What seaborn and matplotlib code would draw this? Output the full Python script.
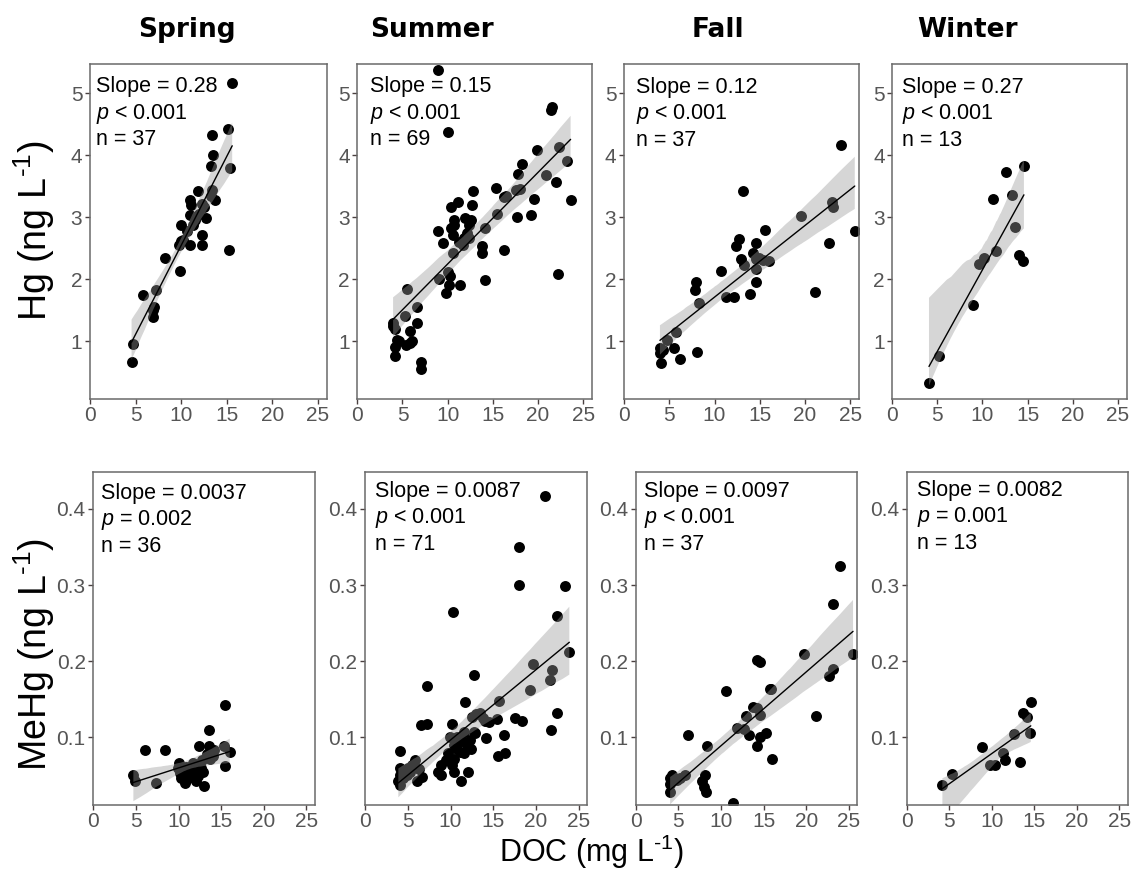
import matplotlib
matplotlib.use("Agg")
import matplotlib.pyplot as plt
import seaborn as sns
import numpy as np

# ---------------- data ----------------
seasons = ["Spring", "Summer", "Fall", "Winter"]

hg_spring_doc = [15.6, 15.15, 13.4, 13.47, 13.3, 15.4, 11.9, 13.4, 10.95, 11.1, 13.7, 12.3, 10.95, 12.7, 9.96,
                 11.3, 10.2, 10.95, 12.3, 12.3, 9.8, 15.3, 8.2, 9.85, 5.84, 7.2, 7.0, 6.86, 4.74, 4.56,
                 12.5, 10.66, 11.5, 13.3, 10.0, 6.93, 12.0]
hg_spring_val = [5.16, 4.43, 4.33, 4.0, 3.83, 3.79, 3.42, 3.44, 3.27, 3.19, 3.27, 3.22, 3.04, 2.99, 2.88,
                 2.88, 2.64, 2.56, 2.72, 2.56, 2.56, 2.47, 2.35, 2.13, 1.75, 1.82, 1.55, 1.39, 0.96, 0.67,
                 3.17, 2.78, 2.96, 3.34, 2.61, 1.51, 3.05]

hg_summer_doc = [8.94, 10.04, 21.5, 21.4, 19.9, 22.3, 23.2, 18.2, 17.8, 20.9, 22.0, 17.6, 15.3, 12.8, 16.2,
                 19.5, 23.6, 11.1, 10.4, 12.7, 15.5, 17.7, 19.2, 10.7, 11.9, 12.4, 10.66, 8.94, 10.4, 14.1,
                 10.55, 9.45, 11.8, 12.4, 11.65, 13.85, 13.8, 16.2, 10.55, 14.1, 9.08, 10.0, 10.2, 11.4, 9.8,
                 22.2, 5.53, 5.27, 6.63, 6.63, 3.96, 3.96, 5.86, 4.4, 4.14, 5.42, 5.86, 4.14, 7.07, 7.0,
                 4.2, 4.6, 11.2, 12.1, 10.3, 16.4, 18.0, 12.6, 6.0]
hg_summer_val = [5.37, 4.37, 4.77, 4.73, 4.08, 4.14, 3.9, 3.86, 3.69, 3.68, 3.56, 3.44, 3.47, 3.42, 3.33,
                 3.29, 3.28, 3.25, 3.16, 3.19, 3.05, 3.01, 3.03, 2.96, 2.98, 2.88, 2.88, 2.78, 2.82, 2.82,
                 2.72, 2.59, 2.66, 2.66, 2.55, 2.53, 2.42, 2.47, 2.42, 1.99, 2.0, 2.12, 1.91, 1.91, 1.78,
                 2.08, 1.84, 1.40, 1.56, 1.30, 1.29, 1.24, 1.16, 1.02, 0.91, 0.94, 0.97, 0.76, 0.66, 0.55,
                 1.2, 1.0, 2.6, 2.75, 2.05, 3.35, 3.45, 2.95, 1.0]

hg_fall_doc = [24.0, 13.1, 19.6, 23.0, 23.1, 25.5, 15.6, 22.6, 12.7, 12.35, 14.6, 14.3, 12.9, 13.3, 14.6,
               15.4, 16.0, 14.6, 10.7, 14.6, 8.0, 7.8, 21.1, 13.9, 11.3, 12.2, 8.27, 5.8, 4.8, 3.97,
               5.5, 3.97, 8.1, 6.2, 4.1, 14.9, 4.3]
hg_fall_val = [4.17, 3.43, 3.02, 3.25, 3.16, 2.78, 2.79, 2.58, 2.65, 2.53, 2.59, 2.43, 2.33, 2.23, 2.32,
               2.31, 2.30, 2.17, 2.14, 1.95, 1.96, 1.82, 1.80, 1.76, 1.72, 1.72, 1.61, 1.15, 1.02, 0.89,
               0.89, 0.81, 0.83, 0.71, 0.65, 2.35, 0.86]

hg_winter_doc = [14.6, 12.6, 13.3, 11.2, 13.6, 11.5, 9.6, 10.2, 14.0, 14.5, 8.9, 5.2, 4.07]
hg_winter_val = [3.82, 3.73, 3.36, 3.29, 2.85, 2.45, 2.25, 2.34, 2.39, 2.30, 1.59, 0.77, 0.33]

mehg_spring_doc = [15.5, 13.6, 12.4, 13.6, 6.05, 8.4, 15.3, 16.0, 10.0, 15.5, 4.7, 4.9, 7.3, 10.7, 13.0,
                   10.2, 11.3, 12.3, 11.9, 12.9, 10.9, 13.7, 12.7, 11.7, 10.5, 10.3, 11.0, 11.6, 12.0, 12.6,
                   13.3, 14.2, 11.2, 9.9, 12.2, 14.0]
mehg_spring_val = [0.143, 0.110, 0.089, 0.089, 0.083, 0.083, 0.089, 0.080, 0.066, 0.062, 0.050, 0.042, 0.040,
                   0.040, 0.036, 0.053, 0.050, 0.049, 0.059, 0.055, 0.061, 0.072, 0.070, 0.066, 0.055, 0.047,
                   0.045, 0.052, 0.043, 0.060, 0.078, 0.083, 0.057, 0.060, 0.064, 0.075]

mehg_summer_doc = [21.06, 17.96, 18.0, 23.4, 10.3, 22.5, 23.9, 19.7, 12.8, 7.2, 21.9, 21.6, 19.3, 15.7, 11.7,
                   6.6, 7.2, 10.2, 17.6, 18.4, 22.5, 21.8, 12.5, 13.5, 14.0, 15.4, 11.6, 12.7, 9.9, 14.2,
                   16.3, 12.3, 4.1, 10.4, 12.35, 11.6, 9.7, 10.4, 16.35, 15.5, 8.9, 10.2, 8.9, 10.4, 12.0,
                   11.2, 5.9, 5.5, 4.9, 4.1, 4.04, 3.9, 4.1, 6.1, 6.7, 5.3, 4.5,
                   10.8, 11.1, 9.5, 13.0, 13.8, 11.3, 5.0, 6.3, 4.6, 12.9, 8.5, 10.8, 11.9, 14.5]
mehg_summer_val = [0.417, 0.350, 0.300, 0.299, 0.265, 0.260, 0.212, 0.196, 0.182, 0.168, 0.188, 0.175, 0.162,
                   0.148, 0.146, 0.116, 0.117, 0.117, 0.125, 0.121, 0.132, 0.110, 0.127, 0.132, 0.121, 0.124,
                   0.107, 0.107, 0.100, 0.099, 0.103, 0.096, 0.082, 0.090, 0.085, 0.079, 0.079, 0.072, 0.079,
                   0.075, 0.064, 0.064, 0.050, 0.054, 0.054, 0.042, 0.070, 0.063, 0.051, 0.059, 0.051, 0.042,
                   0.037, 0.042, 0.048, 0.055, 0.046,
                   0.085, 0.080, 0.070, 0.130, 0.125, 0.095, 0.060, 0.058, 0.055, 0.105, 0.055, 0.100, 0.090,
                   0.120]

mehg_fall_doc = [24.0, 23.2, 19.7, 25.5, 14.2, 14.6, 23.1, 22.7, 10.6, 15.7, 15.9, 13.8, 14.2, 12.9, 14.6,
                 21.2, 11.9, 12.7, 15.3, 13.3, 14.6, 6.1, 8.35, 14.2, 16.0, 4.04, 4.04, 4.04, 5.2, 5.8,
                 8.1, 7.8, 8.3, 11.4, 4.8, 4.3, 8.0]
mehg_fall_val = [0.325, 0.275, 0.209, 0.209, 0.202, 0.199, 0.190, 0.181, 0.161, 0.164, 0.163, 0.140, 0.138,
                 0.128, 0.129, 0.128, 0.112, 0.111, 0.106, 0.103, 0.100, 0.103, 0.088, 0.088, 0.072, 0.046,
                 0.039, 0.028, 0.046, 0.051, 0.050, 0.042, 0.028, 0.013, 0.044, 0.050, 0.035]

mehg_winter_doc = [14.6, 13.7, 14.2, 14.5, 12.6, 8.9, 11.3, 11.6, 9.8, 10.4, 13.3, 5.3, 4.2]
mehg_winter_val = [0.147, 0.132, 0.126, 0.106, 0.104, 0.087, 0.079, 0.070, 0.064, 0.064, 0.067, 0.052, 0.037]

hg_slopes = ["0.28", "0.15", "0.12", "0.27"]
hg_p = ["< 0.001", "< 0.001", "< 0.001", "< 0.001"]
hg_n = [37, 69, 37, 13]
mehg_slopes = ["0.0037", "0.0087", "0.0097", "0.0082"]
mehg_p = ["= 0.002", "< 0.001", "< 0.001", "= 0.001"]
mehg_n = [36, 71, 37, 13]

x_ticks = [0, 5, 10, 15, 20, 25]
hg_ticks = [1, 2, 3, 4, 5]
mehg_ticks = [0.1, 0.2, 0.3, 0.4]

# ---------------- style ----------------
sns.set_style("ticks")
plt.rcParams["font.family"] = ["Liberation Sans", "DejaVu Sans"]
plt.rcParams["mathtext.fontset"] = "custom"
plt.rcParams["mathtext.rm"] = "Liberation Sans"
plt.rcParams["mathtext.it"] = "Liberation Sans:italic"

W, H = 1133, 880
fig = plt.figure(figsize=(W / 100, H / 100), dpi=100)

def frac_rect(left, right, top, bottom):
    return [left / W, 1 - bottom / H, (right - left) / W, (bottom - top) / H]

top_cols = [(90, 327), (357.3, 592.3), (624, 859.3), (892.3, 1126.7)]
bot_cols = [(93.3, 315), (365, 587.3), (635.7, 857.3), (906.7, 1127.7)]
top_row = (64, 399)
bot_row = (471.7, 805)

top_txt_dx = [6, 13, 12, 10]
bot_txt_dx = [8, 10, 8, 10]
top_txt_dy = [28, 28, 29, 29]
bot_txt_dy = [27, 25, 25, 24]

hg_data = [(hg_spring_doc, hg_spring_val), (hg_summer_doc, hg_summer_val),
           (hg_fall_doc, hg_fall_val), (hg_winter_doc, hg_winter_val)]
mehg_data = [(mehg_spring_doc, mehg_spring_val), (mehg_summer_doc, mehg_summer_val),
             (mehg_fall_doc, mehg_fall_val), (mehg_winter_doc, mehg_winter_val)]


def draw_panel(ax, xs, ys, ylim, yticks, lines, dx, dy):
    sns.scatterplot(x=xs, y=ys, ax=ax, color="black", s=62, linewidth=0, zorder=1)
    n_before = len(ax.collections)
    sns.regplot(x=xs, y=ys, ax=ax, scatter=False, color="black", ci=95, seed=3,
                line_kws=dict(lw=1.0))
    for coll in ax.collections[n_before:]:
        coll.set_facecolor("#999999")
        coll.set_alpha(0.4)
        coll.set_edgecolor("none")
    ax.set_xlim(0, 26)
    ax.set_ylim(*ylim)
    ax.set_xticks(x_ticks)
    ax.set_yticks(yticks)
    ax.set_yticklabels([f"{t:g}" for t in yticks])
    ax.set_xlabel("")
    ax.set_ylabel("")
    for sp in ax.spines.values():
        sp.set_visible(True)
        sp.set_color("#6a6a6a")
        sp.set_linewidth(1.1)
    ax.tick_params(direction="out", length=3.5, width=1.0, color="#4a4040",
                   labelcolor="#555555", labelsize=15, pad=2)
    ax.tick_params(axis="x", pad=1.5)
    for i, s in enumerate(lines):
        ax.annotate(s, xy=(0, 1), xycoords="axes fraction",
                    xytext=(dx, -(dy + i * 26.5)), textcoords="offset pixels",
                    ha="left", va="baseline", fontsize=15.5, color="black")


for i in range(4):
    ax = fig.add_axes(frac_rect(top_cols[i][0], top_cols[i][1], *top_row))
    xs, ys = hg_data[i]
    draw_panel(ax, xs, ys, (0.07, 5.47), hg_ticks,
               [f"Slope = {hg_slopes[i]}", f"$p$ {hg_p[i]}", f"n = {hg_n[i]}"],
               top_txt_dx[i], top_txt_dy[i])

for i in range(4):
    ax = fig.add_axes(frac_rect(bot_cols[i][0], bot_cols[i][1], *bot_row))
    xs, ys = mehg_data[i]
    draw_panel(ax, xs, ys, (0.011, 0.449), mehg_ticks,
               [f"Slope = {mehg_slopes[i]}", f"$p$ {mehg_p[i]}", f"n = {mehg_n[i]}"],
               bot_txt_dx[i], bot_txt_dy[i])

# titles
title_x = [187, 432, 718, 967]
for s, tx in zip(seasons, title_x):
    fig.text(tx / W, 1 - 37 / H, s, ha="center", va="baseline", fontsize=19,
             fontweight="bold", family="DejaVu Sans", color="black")

sup = r"$^{\text{-1}}$"
fig.text(34 / W, 1 - 231 / H, "Hg (ng L" + sup + ")", rotation=90, ha="center", va="center",
         fontsize=27, color="black")
fig.text(34 / W, 1 - 655 / H, "MeHg (ng L" + sup + ")", rotation=90, ha="center", va="center",
         fontsize=27, color="black")
fig.text(591 / W, 1 - 862 / H, "DOC (mg L" + sup + ")", ha="center", va="baseline",
         fontsize=22, color="black")

fig.savefig("out.png", dpi=100, facecolor="white")
